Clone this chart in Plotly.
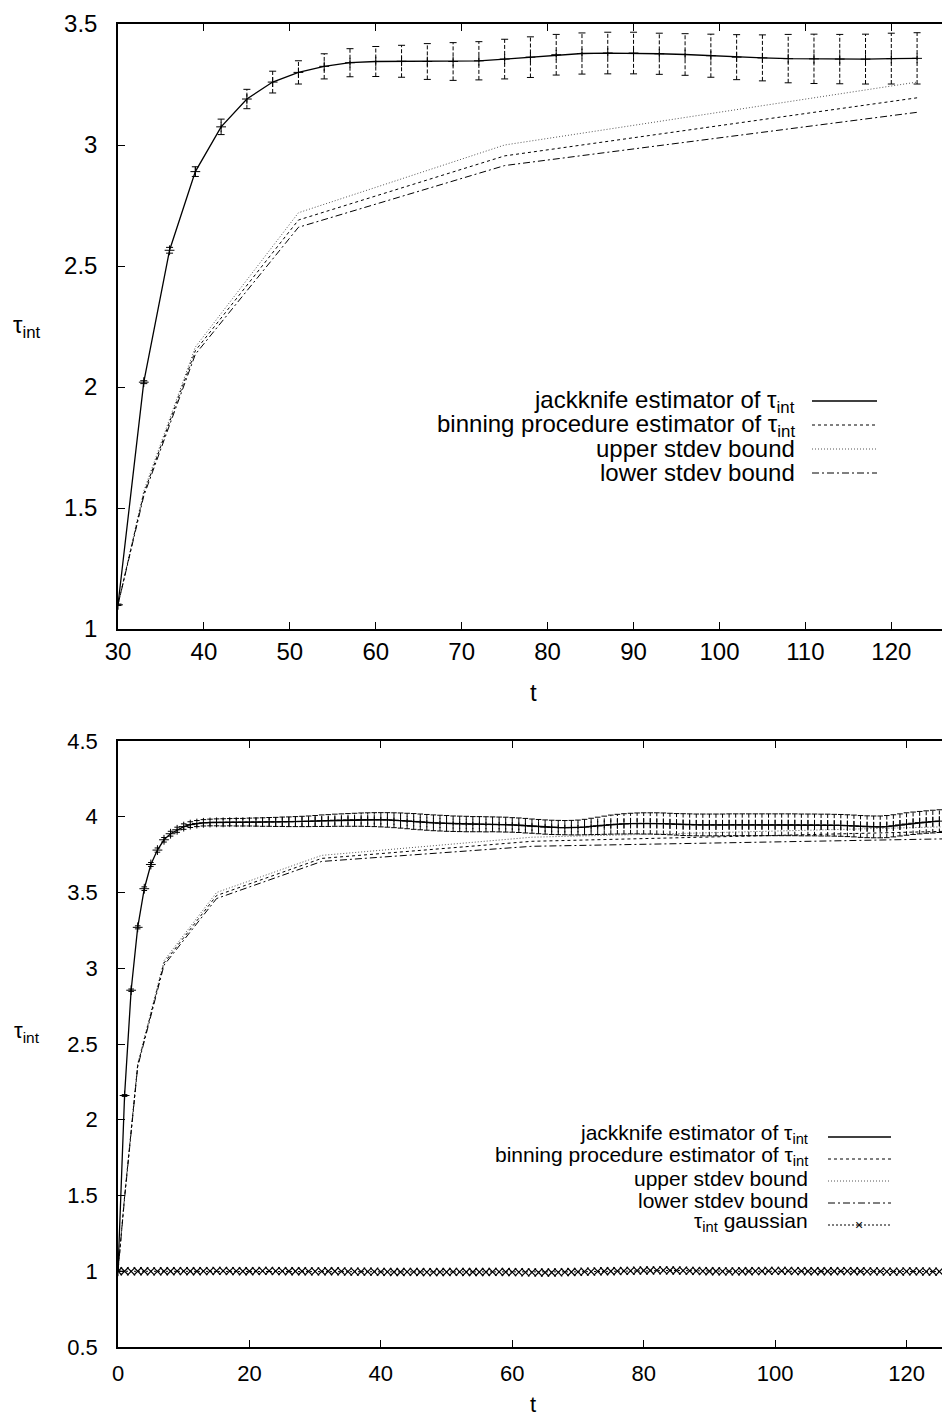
import plotly.graph_objects as go

# ---------------- data: top panel ----------------
t_top = [30, 33, 36, 39, 42, 45, 48, 51, 54, 57, 60, 63, 66, 69, 72, 75,
         78, 81, 84, 87, 90, 93, 96, 99, 102, 105, 108, 111, 114, 117, 120, 123]
jk_top = [1.10, 2.02, 2.565, 2.89, 3.075, 3.19, 3.26, 3.30, 3.325, 3.34, 3.345, 3.346,
          3.345, 3.345, 3.348, 3.355, 3.363, 3.373, 3.378, 3.38, 3.38, 3.377, 3.374, 3.369,
          3.363, 3.36, 3.357, 3.356, 3.355, 3.355, 3.357, 3.358]
jk_top_err = [0.003, 0.006, 0.012, 0.02, 0.032, 0.04, 0.045, 0.048, 0.052, 0.058, 0.062, 0.066,
              0.074, 0.078, 0.079, 0.082, 0.084, 0.084, 0.085, 0.086, 0.086, 0.085, 0.086, 0.089,
              0.093, 0.095, 0.10, 0.102, 0.102, 0.103, 0.105, 0.106]
t_bin_top = [30, 33, 39, 51, 75, 123]
bin_top = [1.10, 1.56, 2.15, 2.69, 2.955, 3.195]
upper_top = [1.10, 1.57, 2.165, 2.72, 3.00, 3.26]
lower_top = [1.10, 1.55, 2.135, 2.66, 2.915, 3.135]

# ---------------- data: bottom panel ----------------
t_bot = list(range(0, 126))
jk_bot = [1.0, 2.16, 2.855, 3.27, 3.525, 3.685, 3.78, 3.848, 3.888, 3.914, 3.935, 3.948, 3.955, 3.96, 3.962,
          3.963, 3.963, 3.964, 3.964, 3.964, 3.965, 3.965, 3.965, 3.966, 3.966, 3.967, 3.967, 3.968, 3.969, 3.970, 3.972,
          3.974, 3.975, 3.977, 3.978, 3.979, 3.980, 3.981, 3.981, 3.981, 3.980, 3.979, 3.977, 3.975, 3.972, 3.969,
          3.966, 3.963, 3.960, 3.958, 3.956, 3.954, 3.953, 3.952, 3.951, 3.951, 3.950, 3.950, 3.949, 3.948, 3.946,
          3.944, 3.941, 3.938, 3.935, 3.932, 3.930, 3.929, 3.928, 3.928, 3.929, 3.932, 3.936, 3.940, 3.944, 3.948,
          3.951, 3.953, 3.955, 3.956, 3.956, 3.956, 3.955, 3.954, 3.952, 3.950, 3.948, 3.947, 3.946, 3.946, 3.946,
          3.946, 3.946, 3.947, 3.947, 3.947, 3.947, 3.947, 3.947, 3.947, 3.947, 3.947, 3.947, 3.947, 3.946, 3.946,
          3.946, 3.945, 3.945, 3.944, 3.943, 3.941, 3.939, 3.936, 3.934, 3.933, 3.933, 3.935, 3.940, 3.946, 3.952,
          3.957, 3.961, 3.965, 3.968, 3.971]
jk_bot_err = [0.002, 0.006, 0.008, 0.010, 0.012, 0.013, 0.014, 0.015, 0.016, 0.017, 0.018, 0.019, 0.020, 0.021, 0.022,
              0.023, 0.024, 0.024, 0.025, 0.025, 0.026, 0.027, 0.028, 0.029, 0.030, 0.031, 0.032, 0.033, 0.034, 0.035, 0.036,
              0.038, 0.039, 0.040, 0.041, 0.042, 0.043, 0.044, 0.045, 0.046, 0.047, 0.048, 0.049, 0.050, 0.051, 0.052,
              0.052, 0.052, 0.052, 0.052, 0.052, 0.051, 0.051, 0.051, 0.050, 0.050, 0.050, 0.049, 0.049, 0.049, 0.048,
              0.048, 0.048, 0.047, 0.047, 0.047, 0.047, 0.047, 0.047, 0.048, 0.049, 0.051, 0.054, 0.057, 0.060, 0.063,
              0.065, 0.067, 0.068, 0.069, 0.070, 0.070, 0.071, 0.071, 0.071, 0.071, 0.072, 0.072, 0.072, 0.072, 0.072,
              0.072, 0.072, 0.072, 0.072, 0.072, 0.072, 0.072, 0.072, 0.072, 0.072, 0.072, 0.072, 0.072, 0.072, 0.072,
              0.072, 0.072, 0.072, 0.072, 0.072, 0.072, 0.072, 0.072, 0.072, 0.072, 0.072, 0.073, 0.073, 0.073, 0.074,
              0.074, 0.074, 0.074, 0.075, 0.075]
t_bin_bot = [0, 1, 3, 7, 15, 31, 63, 127]
bin_bot = [1.0, 1.49, 2.36, 3.035, 3.48, 3.725, 3.838, 3.905]
upper_bot = [1.0, 1.50, 2.37, 3.05, 3.50, 3.745, 3.865, 3.935]
lower_bot = [1.0, 1.48, 2.35, 3.02, 3.46, 3.705, 3.805, 3.855]
gauss_bot = [1.000, 1.000, 0.999, 1.000, 1.000, 0.999, 0.999, 1.000, 1.000, 1.001,
             1.001, 1.000, 1.000, 1.001, 1.001, 1.002, 1.002, 1.001, 1.001, 1.000,
             1.000, 1.001, 1.002, 1.002, 1.001, 1.001, 1.000, 1.000, 1.000, 0.999,
             0.999, 0.999, 1.000, 1.000, 0.999, 0.998, 0.998, 0.997, 0.997, 0.997,
             0.996, 0.996, 0.995, 0.995, 0.996, 0.996, 0.995, 0.994, 0.994, 0.995,
             0.995, 0.996, 0.996, 0.995, 0.995, 0.995, 0.995, 0.996, 0.996, 0.995,
             0.994, 0.994, 0.993, 0.993, 0.992, 0.992, 0.992, 0.993, 0.994, 0.995,
             0.996, 0.997, 0.998, 0.999, 1.000, 1.000, 1.001, 1.002, 1.003, 1.004,
             1.005, 1.005, 1.006, 1.006, 1.005, 1.005, 1.004, 1.003, 1.002, 1.001,
             1.000, 1.000, 0.999, 0.999, 0.999, 1.000, 1.000, 1.001, 1.001, 1.002,
             1.002, 1.002, 1.002, 1.001, 1.001, 1.000, 1.000, 1.000, 1.000, 1.000,
             1.001, 1.001, 1.000, 1.000, 0.999, 0.999, 0.999, 0.998, 0.998, 0.998,
             0.999, 0.999, 0.999, 0.998, 0.998, 0.998]

legend_labels = ["jackknife estimator of τ<sub>int</sub>",
                 "binning procedure estimator of τ<sub>int</sub>",
                 "upper stdev bound",
                 "lower stdev bound",
                 "τ<sub>int</sub> gaussian"]

# ---------------- styling ----------------
W, H = 942, 1419
FONT = "Liberation Sans"
DASH_BIN = "3px,3px"
DASH_UP = "1px,2px"
DASH_LO = "7px,3px,2px,3px"
DASH_GAUSS = "2px,2px"
DASH_ERR = "4px,2px"


def px(x):
    return x / W


def py(y):
    return 1 - y / H


def errbar_segments(ts, vs, es):
    xs, ys = [], []
    for t, v, e in zip(ts, vs, es):
        xs += [t, t, None]
        ys += [v - e, v + e, None]
    return xs, ys


fig = go.Figure()


def add_panel(xa, ya, ts, jk, err, tb, binv, up, lo, capsize):
    ex, ey = errbar_segments(ts, jk, err)
    fig.add_trace(go.Scatter(x=ex, y=ey, mode="lines", xaxis=xa, yaxis=ya,
                             line=dict(color="black", width=1, dash=DASH_ERR),
                             showlegend=False, hoverinfo="skip"))
    fig.add_trace(go.Scatter(x=list(ts) + list(ts),
                             y=[v - e for v, e in zip(jk, err)] + [v + e for v, e in zip(jk, err)],
                             mode="markers", xaxis=xa, yaxis=ya,
                             marker=dict(symbol="line-ew-open", size=capsize, color="black",
                                         line=dict(color="black", width=1)),
                             showlegend=False, hoverinfo="skip"))
    fig.add_trace(go.Scatter(x=tb, y=up, mode="lines", xaxis=xa, yaxis=ya,
                             line=dict(color="#555555", width=1, dash=DASH_UP), showlegend=False))
    fig.add_trace(go.Scatter(x=tb, y=binv, mode="lines", xaxis=xa, yaxis=ya,
                             line=dict(color="black", width=1, dash=DASH_BIN), showlegend=False))
    fig.add_trace(go.Scatter(x=tb, y=lo, mode="lines", xaxis=xa, yaxis=ya,
                             line=dict(color="black", width=1, dash=DASH_LO), showlegend=False))
    fig.add_trace(go.Scatter(x=ts, y=jk, mode="lines+markers", xaxis=xa, yaxis=ya,
                             line=dict(color="black", width=1.3),
                             marker=dict(symbol="cross-thin-open", size=7, color="black",
                                         line=dict(color="black", width=1)),
                             showlegend=False))


add_panel("x", "y", t_top, jk_top, jk_top_err, t_bin_top, bin_top, upper_top, lower_top, 5)
add_panel("x2", "y2", t_bot, jk_bot, jk_bot_err, t_bin_bot, bin_bot, upper_bot, lower_bot, 4)
fig.add_trace(go.Scatter(x=t_bot, y=gauss_bot, mode="lines+markers", xaxis="x2", yaxis="y2",
                         line=dict(color="black", width=1, dash=DASH_GAUSS),
                         marker=dict(symbol="x-thin-open", size=8, color="black",
                                     line=dict(color="black", width=1.2)),
                         showlegend=False))


def axis(rng, dom, dtick, fsize, is_x, anchor, standoff):
    d = dict(range=rng, domain=dom, dtick=dtick, tick0=0, showline=True, linecolor="black",
             linewidth=1.5, ticks="inside", ticklen=7, tickwidth=1, tickcolor="black",
             showgrid=False, zeroline=False, automargin=False, anchor=anchor,
             tickfont=dict(family=FONT, size=fsize, color="black"),
             ticklabelstandoff=standoff)
    if is_x:
        d["mirror"] = "ticks"
    return d


xdom = [118 / W, 1.0]
top_ydom = [py(629), py(24)]
bot_ydom = [py(1347), py(741)]

fig.update_layout(
    width=W, height=H, margin=dict(l=0, r=0, t=0, b=0),
    paper_bgcolor="white", plot_bgcolor="white", showlegend=False,
    xaxis=axis([30, 125.9], xdom, 10, 24, True, "y", 0),
    yaxis=axis([1, 3.5], top_ydom, 0.5, 24, False, "x", 14),
    xaxis2=axis([0, 125.4], xdom, 20, 22, True, "y2", 6),
    yaxis2=axis([0.5, 4.5], bot_ydom, 0.5, 22, False, "x2", 14),
)

ann = []
shapes = []


def text_at(x, y, txt, size, xanchor="center"):
    ann.append(dict(x=px(x), y=py(y), xref="paper", yref="paper", text=txt,
                    xanchor=xanchor, yanchor="middle", showarrow=False,
                    font=dict(family=FONT, size=size, color="black")))


# axis titles
text_at(27, 327, "τ<sub>int</sub>", 24)
text_at(533, 692, "t", 24)
text_at(27, 1032, "τ<sub>int</sub>", 22)
text_at(533, 1404, "t", 22)

styles = [dict(color="black", width=1.3, dash="solid"),
          dict(color="black", width=1, dash=DASH_BIN),
          dict(color="#555555", width=1, dash=DASH_UP),
          dict(color="black", width=1, dash=DASH_LO),
          dict(color="black", width=1, dash=DASH_GAUSS)]

# top legend
top_rows = [401, 425, 449, 473]
for i, yy in enumerate(top_rows):
    text_at(797, yy, legend_labels[i], 24, xanchor="right")
    shapes.append(dict(type="line", xref="paper", yref="paper", x0=px(812), x1=px(877),
                       y0=py(yy), y1=py(yy), line=styles[i]))

# bottom legend
bot_rows = [1134, 1156, 1178, 1200, 1222]
for i, yy in enumerate(bot_rows):
    text_at(810, yy, legend_labels[i], 21, xanchor="right")
    shapes.append(dict(type="line", xref="paper", yref="paper", x0=px(828), x1=px(891),
                       y0=py(yy + 3), y1=py(yy + 3), line=styles[i]))
text_at(859, 1225, "×", 14)

fig.update_layout(annotations=ann, shapes=shapes)
fig.write_html("out.html")
